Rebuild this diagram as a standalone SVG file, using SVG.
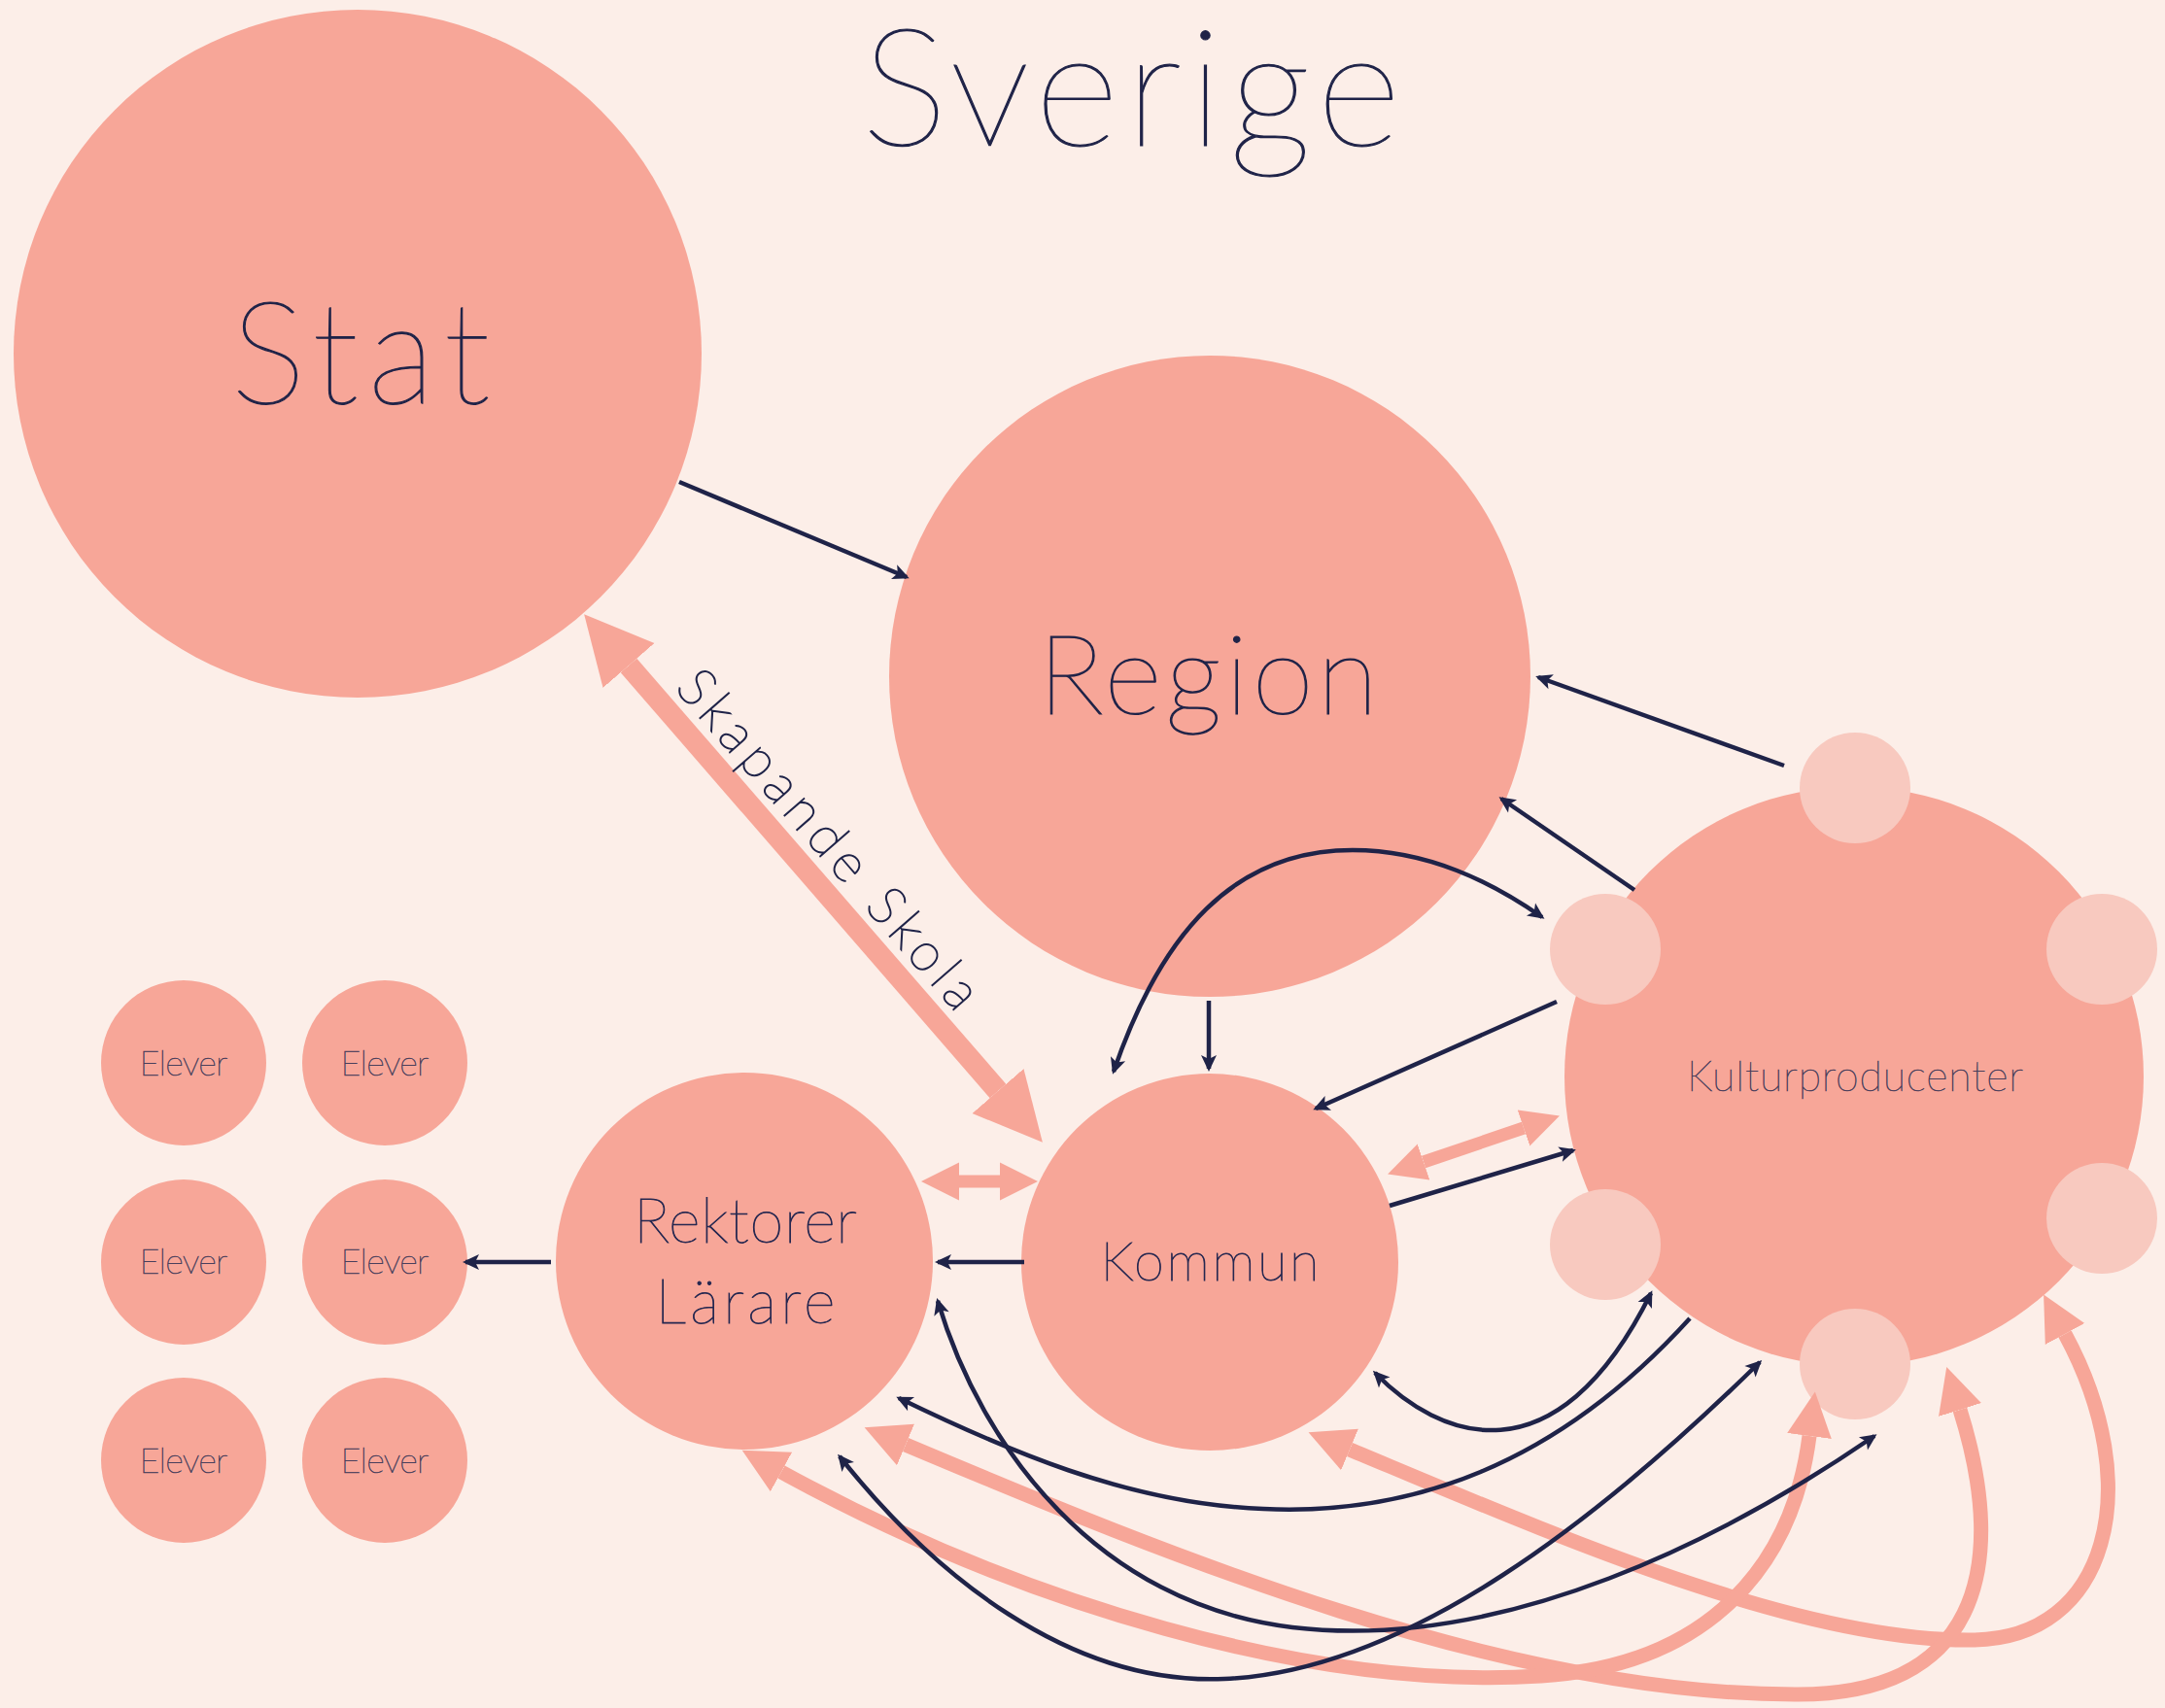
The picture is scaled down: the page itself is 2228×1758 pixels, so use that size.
<svg xmlns="http://www.w3.org/2000/svg" width="2228" height="1758" viewBox="0 0 2228 1758">
<style>
  .bg{fill:#FCEEE8}
  .big{fill:#F7A698}
  .dot{fill:#F8C9BF}
  .t{font-family:Lato,"Liberation Sans",sans-serif;font-weight:200;fill:#1F2348;stroke:#1F2348;stroke-width:1.2;text-anchor:middle}
  .tm{font-family:Lato,"Liberation Sans",sans-serif;font-weight:200;fill:#252750;stroke:#252750;stroke-width:0.9;text-anchor:middle}
  .tr{font-family:Lato,"Liberation Sans",sans-serif;font-weight:200;fill:#1F2348;stroke:#1F2348;stroke-width:1.4;text-anchor:middle}
  .ts{font-family:Lato,"Liberation Sans",sans-serif;font-weight:200;fill:#4A3F5C;stroke:#4A3F5C;stroke-width:0.6;text-anchor:middle}
  .dk{fill:none;stroke:#1F2348;stroke-width:4.5}
  .pk{fill:none;stroke:#F7A698;stroke-width:15}
  .pm{fill:none;stroke:#F7A698;stroke-width:13}
  .ps{fill:none;stroke:#F7A698;stroke-width:22}
</style>
<defs>
  <marker id="ad" markerUnits="userSpaceOnUse" viewBox="-16 -10 22 20" markerWidth="22" markerHeight="20" refX="0" refY="0" orient="auto-start-reverse">
    <path d="M3,0 L-14,-8 L-10,0 L-14,8 z" fill="#1F2348"/>
  </marker>
  <marker id="ap" markerUnits="userSpaceOnUse" viewBox="0 -24 48 48" markerWidth="48" markerHeight="48" refX="0" refY="0" orient="auto-start-reverse">
    <path d="M46,0 L0,-23 L0,23 z" fill="#F7A698"/>
  </marker>
  <marker id="am" markerUnits="userSpaceOnUse" viewBox="0 -21 41 42" markerWidth="41" markerHeight="42" refX="0" refY="0" orient="auto-start-reverse">
    <path d="M39,0 L0,-19.5 L0,19.5 z" fill="#F7A698"/>
  </marker>
  <marker id="as" markerUnits="userSpaceOnUse" viewBox="0 -36 72 72" markerWidth="72" markerHeight="72" refX="0" refY="0" orient="auto-start-reverse">
    <path d="M70,0 L0,-35 L0,35 z" fill="#F7A698"/>
  </marker>
</defs>
<rect class="bg" x="0" y="0" width="2228" height="1758"/>
<text class="t" x="1164" y="150" font-size="168" textLength="555">Sverige</text>

<g id="stat"><circle class="big" cx="368" cy="364" r="354"/><text class="t" x="371" y="415" font-size="146" textLength="267">Stat</text></g>
<g id="region"><circle class="big" cx="1245" cy="696" r="330"/><text class="t" x="1243" y="735" font-size="115" textLength="350">Region</text></g>
<g id="kommun"><circle class="big" cx="1245" cy="1299" r="194"/><text class="tm" x="1245" y="1318" font-size="56" textLength="225">Kommun</text></g>
<g id="rektorer"><circle class="big" cx="766" cy="1298" r="194"/><text class="tm" x="767" y="1279" font-size="63" textLength="230">Rektorer</text><text class="tm" x="767" y="1362" font-size="63" textLength="185">Lärare</text></g>
<g id="kultur">
  <circle class="big" cx="1908" cy="1108" r="298"/>
  <circle class="dot" cx="1909" cy="811" r="57"/>
  <circle class="dot" cx="1652" cy="977" r="57"/>
  <circle class="dot" cx="2163" cy="977" r="57"/>
  <circle class="dot" cx="1652" cy="1281" r="57"/>
  <circle class="dot" cx="2163" cy="1254" r="57"/>
  <circle class="dot" cx="1909" cy="1404" r="57"/>
  <text class="ts" x="1909" y="1123" font-size="43" textLength="346">Kulturproducenter</text>
</g>
<g id="elever1"><circle class="big" cx="189" cy="1094" r="85"/><text class="ts" x="189" y="1107" font-size="36" textLength="91">Elever</text></g>
<g id="elever2"><circle class="big" cx="396" cy="1094" r="85"/><text class="ts" x="396" y="1107" font-size="36" textLength="91">Elever</text></g>
<g id="elever3"><circle class="big" cx="189" cy="1299" r="85"/><text class="ts" x="189" y="1311" font-size="36" textLength="91">Elever</text></g>
<g id="elever4"><circle class="big" cx="396" cy="1299" r="85"/><text class="ts" x="396" y="1311" font-size="36" textLength="91">Elever</text></g>
<g id="elever5"><circle class="big" cx="189" cy="1503" r="85"/><text class="ts" x="189" y="1516" font-size="36" textLength="91">Elever</text></g>
<g id="elever6"><circle class="big" cx="396" cy="1503" r="85"/><text class="ts" x="396" y="1516" font-size="36" textLength="91">Elever</text></g>

<g id="connectors">
  <path class="ps" d="M647,685 L1027,1123" marker-start="url(#as)" marker-end="url(#as)"/>
  <text class="tr" transform="translate(839,876) rotate(49)" x="0" y="0" font-size="55" textLength="443">Skapande Skola</text>
  <path class="pm" d="M987,1216 L1029,1216" marker-start="url(#am)" marker-end="url(#am)"/>
  <path class="pm" d="M1465,1196 L1568,1161" marker-start="url(#am)" marker-end="url(#am)"/>
  <path class="pk" d="M1389,1492 C1600,1580 1850,1690 2030,1688 C2170,1687 2210,1530 2125,1373" marker-start="url(#ap)" marker-end="url(#ap)"/>
  <path class="pk" d="M932,1487 C1200,1600 1550,1745 1850,1744 C2030,1744 2070,1620 2017,1451" marker-start="url(#ap)" marker-end="url(#ap)"/>
  <path class="pk" d="M804,1515 C1050,1650 1350,1740 1586,1725 C1760,1714 1845,1610 1862,1478" marker-start="url(#ap)" marker-end="url(#ap)"/>

  <path class="dk" d="M699,496 L933,594" marker-end="url(#ad)"/>
  <path class="dk" d="M1836,788 L1583,697" marker-end="url(#ad)"/>
  <path class="dk" d="M1682,916 L1545,822" marker-end="url(#ad)"/>
  <path class="dk" d="M1244,1030 L1244,1100" marker-end="url(#ad)"/>
  <path class="dk" d="M1146,1103 C1195,960 1270,875 1392,875 C1470,875 1535,908 1587,944" marker-start="url(#ad)" marker-end="url(#ad)"/>
  <path class="dk" d="M1602,1031 L1354,1141" marker-end="url(#ad)"/>
  <path class="dk" d="M1430,1241 L1619,1184" marker-end="url(#ad)"/>
  <path class="dk" d="M1054,1299 L965,1299" marker-end="url(#ad)"/>
  <path class="dk" d="M567,1299 L479,1299" marker-end="url(#ad)"/>
  <path class="dk" d="M1415,1413 C1480,1480 1600,1530 1699,1331" marker-start="url(#ad)" marker-end="url(#ad)"/>
  <path class="dk" d="M1739,1357 C1600,1510 1450,1560 1300,1553 C1160,1548 1030,1490 925,1439" marker-end="url(#ad)"/>
  <path class="dk" d="M965,1339 C1010,1490 1130,1651 1330,1675 C1550,1701 1780,1580 1929,1478" marker-start="url(#ad)" marker-end="url(#ad)"/>
  <path class="dk" d="M864,1499 C960,1620 1100,1735 1260,1728 C1450,1720 1650,1560 1811,1402" marker-start="url(#ad)" marker-end="url(#ad)"/>
</g>
</svg>
